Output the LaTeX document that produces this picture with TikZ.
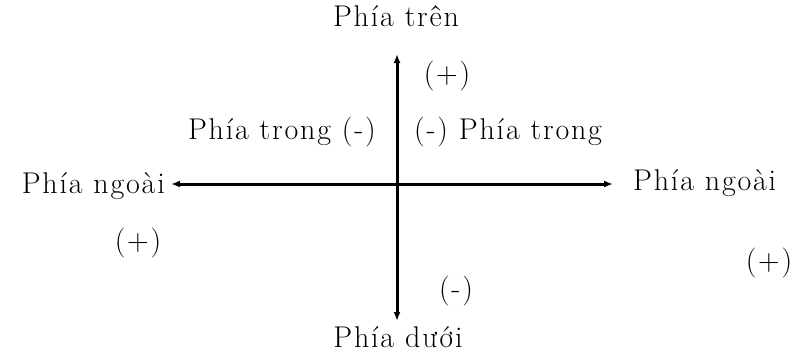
\documentclass[tikz,border=0pt]{standalone}
\usepackage{fontspec}
\setmainfont{Latin Modern Roman}[LetterSpace=6]
\usetikzlibrary{arrows.meta}
\begin{document}
\begin{tikzpicture}[x=1pt,y=-1pt,
  lbl/.style={font=\fontsize{30}{33}\selectfont, inner sep=0pt, anchor=base},
  axis/.style={line width=3pt, {Latex[length=9pt,width=7pt]}-{Latex[length=9pt,width=7pt]}}]
\useasboundingbox (0,0) rectangle (793,356);
\coordinate (O) at (397,184);
\coordinate (tp) at (397,54);
\coordinate (bt) at (397,321);
\coordinate (lf) at (171,184);
\coordinate (rt) at (613,184);
\draw[axis] (bt) -- (tp);
\draw[axis] (lf) -- (rt);
\node[lbl] (ntop) at (396,27) {Phía trên};
\node[lbl] (nbot) at (398,347) {Phía dưới};
\node[lbl, anchor=base east] (nleft) at (165,193) {Phía ngoài};
\node[lbl, anchor=base west] (nright) at (633,190) {Phía ngoài};
\node[lbl] (ptop) at (447,83) {(+)};
\node[lbl, anchor=base east] (inl) at (376,139) {Phía trong (-)};
\node[lbl, anchor=base west] (inr) at (414,139) {(-) Phía trong};
\node[lbl] (pleft) at (138,250) {(+)};
\node[lbl] (pright) at (769,270) {(+)};
\node[lbl] (mbot) at (456,298) {(-)};
\end{tikzpicture}
\end{document}
